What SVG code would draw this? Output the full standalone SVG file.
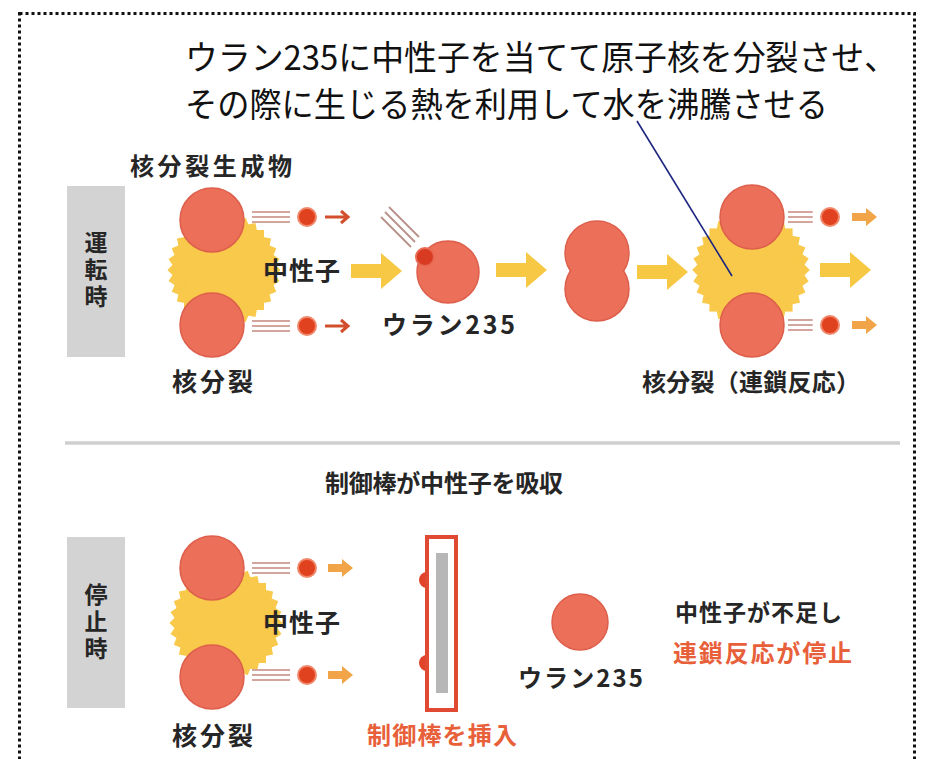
<svg xmlns="http://www.w3.org/2000/svg" xmlns:xlink="http://www.w3.org/1999/xlink" width="928" height="759" viewBox="0 0 928 759">
  <style>
    .jp { font-family: "Noto Sans CJK JP", "Noto Sans", sans-serif; }
    .lbl { font-family: "Noto Sans CJK JP", "Noto Sans", sans-serif; font-weight: 700; fill: #262626; }
    .vert { writing-mode: vertical-rl; text-orientation: upright; }
    .red { fill: #e8603a; }
    .tab { fill: #d3d3d3; }
    .nuc { fill: #ec6f5a; stroke: #dd5f4b; stroke-width: 1.5; }
    .neu { fill: #e0421f; stroke: #f0876a; stroke-width: 2; }
    .trail line { stroke: #d4a59c; stroke-width: 2; }
    .burst { fill: #f8c94a; }
    .yarrow { fill: #f7c844; }
    .oarrow { fill: #f2a548; }
    .thin { fill: none; stroke: #d24e2c; stroke-width: 3; }
  </style>
  <defs>
    <!-- 32-point starburst built from eight rotated squares -->
    <g id="burst">
      <rect x="-40" y="-40" width="80" height="80"/>
      <rect x="-40" y="-40" width="80" height="80" transform="rotate(11.25)"/>
      <rect x="-40" y="-40" width="80" height="80" transform="rotate(22.5)"/>
      <rect x="-40" y="-40" width="80" height="80" transform="rotate(33.75)"/>
      <rect x="-40" y="-40" width="80" height="80" transform="rotate(45)"/>
      <rect x="-40" y="-40" width="80" height="80" transform="rotate(56.25)"/>
      <rect x="-40" y="-40" width="80" height="80" transform="rotate(67.5)"/>
      <rect x="-40" y="-40" width="80" height="80" transform="rotate(78.75)"/>
    </g>
    <g id="trail" class="trail">
      <line x1="0" y1="-5" x2="38" y2="-5"/>
      <line x1="0" y1="0" x2="38" y2="0"/>
      <line x1="0" y1="5" x2="38" y2="5"/>
    </g>
    <path id="bigArrow" d="M0,-7 H30 V-18 L51,0 L30,18 V7 H0 Z"/>
    <path id="smallArrow" d="M0,-4 H14 V-9 L25,0 L14,9 V4 H0 Z"/>
    <path id="thinArrow" d="M0,0 H23 M16,-6 L23,0 L16,6"/>
  </defs>

  <rect width="928" height="759" fill="#ffffff"/>

  <!-- dotted frame -->
  <rect x="19.5" y="13.5" width="895" height="780" fill="none" stroke="#111" stroke-width="3" stroke-dasharray="3 3"/>

  <!-- caption -->
  <g id="caption" class="jp" font-size="34" fill="#111">
    <text x="185" y="70" textLength="712" lengthAdjust="spacingAndGlyphs">ウラン235に中性子を当てて原子核を分裂させ、</text>
    <text x="185" y="117" textLength="643" lengthAdjust="spacingAndGlyphs">その際に生じる熱を利用して水を沸騰させる</text>
  </g>

  <!-- ===== operation row ===== -->
  <g id="tab-run">
    <rect class="tab" x="67" y="186" width="58" height="171"/>
    <text class="lbl vert" x="96" y="271" font-size="23" letter-spacing="4" text-anchor="middle">運転時</text>
  </g>

  <g id="fission-left">
    <use href="#burst" class="burst" transform="translate(224,270)"/>
    <circle class="nuc" cx="212" cy="220" r="32"/>
    <circle class="nuc" cx="212" cy="325" r="32"/>
    <use href="#trail" transform="translate(252,217)"/>
    <use href="#trail" transform="translate(252,326)"/>
    <circle class="neu" cx="307" cy="217" r="9"/>
    <circle class="neu" cx="307" cy="326" r="9"/>
    <use href="#thinArrow" class="thin" transform="translate(325,217)"/>
    <use href="#thinArrow" class="thin" transform="translate(325,326)"/>
    <text class="lbl" x="130" y="175" font-size="24" textLength="162" lengthAdjust="spacing">核分裂生成物</text>
    <text class="lbl" x="263" y="280" font-size="25" textLength="77" lengthAdjust="spacing">中性子</text>
    <text class="lbl" x="172" y="391" font-size="25" textLength="81" lengthAdjust="spacing">核分裂</text>
  </g>

  <g id="uranium-hit">
    <g stroke="#b99089" stroke-width="1.8">
      <line x1="381" y1="217" x2="411" y2="247"/>
      <line x1="385" y1="212" x2="415" y2="242"/>
      <line x1="389" y1="207" x2="419" y2="237"/>
    </g>
    <circle class="nuc" cx="448" cy="272" r="31"/>
    <circle cx="425" cy="257" r="9" fill="#d93a22" stroke="#e86a52" stroke-width="2"/>
    <text class="lbl" x="382" y="334" font-size="25" textLength="133" lengthAdjust="spacing">ウラン235</text>
  </g>

  <g id="split-nucleus">
    <circle class="nuc" cx="597" cy="253" r="32"/>
    <circle class="nuc" cx="597" cy="289" r="32"/>
    <circle cx="597" cy="253" r="31.2" fill="#ec6f5a"/>
  </g>

  <g id="fission-chain">
    <use href="#burst" class="burst" transform="translate(751,270) scale(1.04)"/>
    <circle class="nuc" cx="752" cy="217" r="32"/>
    <circle class="nuc" cx="752" cy="325" r="32"/>
    <use href="#trail" transform="translate(788,217) scale(0.65,1)"/>
    <use href="#trail" transform="translate(788,325) scale(0.65,1)"/>
    <circle class="neu" cx="830" cy="217" r="9"/>
    <circle class="neu" cx="830" cy="325" r="9"/>
    <use href="#smallArrow" class="oarrow" transform="translate(852,217)"/>
    <use href="#smallArrow" class="oarrow" transform="translate(852,325)"/>
    <text class="lbl" x="642" y="391" font-size="24" textLength="218" lengthAdjust="spacing">核分裂（連鎖反応）</text>
  </g>

  <!-- flow arrows and leader -->
  <g id="connectors">
    <use href="#bigArrow" class="yarrow" transform="translate(351,271)"/>
    <use href="#bigArrow" class="yarrow" transform="translate(496,270)"/>
    <use href="#bigArrow" class="yarrow" transform="translate(637,272)"/>
    <use href="#bigArrow" class="yarrow" transform="translate(820,270)"/>
    <line x1="637" y1="121" x2="732" y2="276" stroke="#1c2680" stroke-width="1.6"/>
  </g>

  <!-- divider -->
  <line x1="65" y1="443" x2="900" y2="443" stroke="#cfcfcf" stroke-width="3.5"/>

  <!-- ===== shutdown row ===== -->
  <g id="absorb-note">
    <text class="lbl" x="325" y="492" font-size="24" textLength="238" lengthAdjust="spacing">制御棒が中性子を吸収</text>
  </g>

  <g id="tab-stop">
    <rect class="tab" x="67" y="537" width="58" height="171"/>
    <text class="lbl vert" x="96" y="623" font-size="23" letter-spacing="4" text-anchor="middle">停止時</text>
  </g>

  <g id="fission-stop">
    <use href="#burst" class="burst" transform="translate(226,623)"/>
    <circle class="nuc" cx="212" cy="568" r="32"/>
    <circle class="nuc" cx="212" cy="677" r="32"/>
    <use href="#trail" transform="translate(252,568)"/>
    <use href="#trail" transform="translate(252,675)"/>
    <circle class="neu" cx="307" cy="568" r="9"/>
    <circle class="neu" cx="307" cy="675" r="9"/>
    <use href="#smallArrow" class="oarrow" transform="translate(328,568)"/>
    <use href="#smallArrow" class="oarrow" transform="translate(328,675)"/>
    <text class="lbl" x="263" y="632" font-size="25" textLength="77" lengthAdjust="spacing">中性子</text>
    <text class="lbl" x="172" y="745" font-size="25" textLength="81" lengthAdjust="spacing">核分裂</text>
  </g>

  <g id="control-rod">
    <circle cx="427" cy="580" r="8" fill="#e0432a"/>
    <circle cx="427" cy="663" r="8" fill="#e0432a"/>
    <rect x="427" y="537" width="29" height="173" fill="#ffffff" stroke="#e04a32" stroke-width="4"/>
    <rect x="436" y="553" width="12" height="140" fill="#b7b7b7"/>
    <text class="lbl red" x="367" y="744" font-size="24" textLength="150" lengthAdjust="spacing">制御棒を挿入</text>
  </g>

  <g id="uranium-idle">
    <circle class="nuc" cx="580" cy="622" r="28"/>
    <text class="lbl" x="518" y="687" font-size="24" textLength="125" lengthAdjust="spacing">ウラン235</text>
  </g>

  <g id="result-note">
    <text class="lbl" x="675" y="621" font-size="23" textLength="167" lengthAdjust="spacing">中性子が不足し</text>
    <text class="lbl red" x="673" y="662" font-size="24" textLength="179" lengthAdjust="spacing">連鎖反応が停止</text>
  </g>
</svg>
